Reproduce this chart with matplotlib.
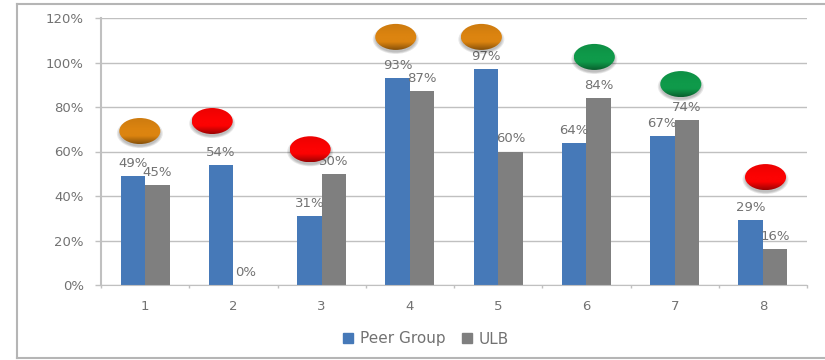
import numpy as np
import matplotlib
matplotlib.use("Agg")
import matplotlib.pyplot as plt
from matplotlib.patches import Ellipse
from matplotlib.lines import Line2D

categories = [1, 2, 3, 4, 5, 6, 7, 8]
peer_group = [49, 54, 31, 93, 97, 64, 67, 29]
ulb = [45, 0, 50, 87, 60, 84, 74, 16]
y_ticks = [0, 20, 40, 60, 80, 100, 120]

# status pills: colour, x and y centre in data units
pill_colors = ["#dc8410", "#fc0303", "#fc0303", "#dc8410", "#dc8410", "#0f9a4a", "#0f9a4a", "#fc0303"]
pill_x = [0.94, 1.76, 2.87, 3.84, 4.81, 6.09, 7.07, 8.03]
pill_y = [69.2, 73.7, 61, 111.5, 111.5, 102.5, 90.3, 48.5]

BLUE = "#4679b8"
GREY = "#7f7f7f"
TEXT = "#727272"
LINE = "#c0c0c0"


def pill_gradient(color):
    # vertical shading, top to bottom: slightly deep, light band, dark lower rim
    rgb = np.array(matplotlib.colors.to_rgb(color))
    stops = np.array([0, 0.45, 0.7, 0.88, 1.0])
    shade = np.array([0.93, 1.0, 1.0, 0.78, 0.62])
    t = np.linspace(0, 1, 40)
    f = np.interp(t, stops, shade)
    return (rgb[None, :] * f[:, None])[:, None, :]


fig = plt.figure(figsize=(8.25, 3.6), dpi=100)
ax = fig.add_axes([101 / 825, 1 - 285 / 360, 706 / 825, 267 / 360])

x = np.array(categories)
w = 0.278
ax.bar(x - w / 2, peer_group, w, color=BLUE, zorder=2)
ax.bar(x + w / 2, ulb, w, color=GREY, zorder=2)

for xi, p, u in zip(x, peer_group, ulb):
    for bx, v in ((xi - w / 2, p), (xi + w / 2, u)):
        ax.annotate(f"{v}%", (bx, v), xytext=(0, 9), textcoords="offset points",
                    ha="center", va="center", fontsize=9.5, color=TEXT, zorder=3)

pw, ph = 0.465, 11.7
for c, px, py in zip(pill_colors, pill_x, pill_y):
    # blurred-looking shadow built from stacked translucent ellipses
    for grow in (1.12, 1.06, 1.0):
        ax.add_patch(Ellipse((px, py - 1.1), pw * grow, ph * grow, color="#000000", alpha=0.09, lw=0, zorder=4))
    body = Ellipse((px, py), pw, ph, facecolor="none", lw=0, zorder=5)
    ax.add_patch(body)
    im = ax.imshow(pill_gradient(c), extent=(px - pw / 2, px + pw / 2, py - ph / 2, py + ph / 2),
                   aspect="auto", origin="upper", interpolation="bilinear", zorder=5)
    im.set_clip_path(body)

ax.set_xlim(0.5, 8.5)
ax.set_ylim(0, 120)
ax.set_yticks(y_ticks)
ax.set_yticklabels([f"{t}%" for t in y_ticks])
ax.set_xticks(x)
ax.set_xticks(np.arange(0.5, 9), minor=True)
ax.tick_params(axis="x", which="major", length=0, pad=11, labelsize=9.5, labelcolor=TEXT)
ax.tick_params(axis="x", which="minor", length=2.5, width=1, color=LINE)
ax.tick_params(axis="y", length=4, width=1, color=LINE, pad=8.5, labelsize=9.5, labelcolor=TEXT)
ax.grid(axis="y", color=LINE, lw=1)
ax.set_axisbelow(True)
for s in ("top", "right"):
    ax.spines[s].set_visible(False)
ax.spines["left"].set_color(LINE)
ax.spines["left"].set_linewidth(1.5)
ax.spines["bottom"].set_color(LINE)

handles = [plt.Rectangle((0, 0), 1, 1, color=BLUE), plt.Rectangle((0, 0), 1, 1, color=GREY)]
fig.legend(handles, ["Peer Group", "ULB"], loc="center", bbox_to_anchor=(426 / 825, 1 - 339 / 360),
           ncol=2, frameon=False, prop={"family": "DejaVu Sans", "size": 11}, labelcolor=TEXT,
           handlelength=0.65, handleheight=0.65, handletextpad=0.45, columnspacing=1.1)

# outer chart frame, open on the right
for xs, ys in (((17, 825), (4, 4)), ((17, 825), (358, 358)), ((17, 17), (4, 358))):
    fig.add_artist(Line2D([v / 825 for v in xs], [1 - v / 360 for v in ys], color="#b5b5b5", lw=1.5))

fig.savefig("out.png", dpi=100)
